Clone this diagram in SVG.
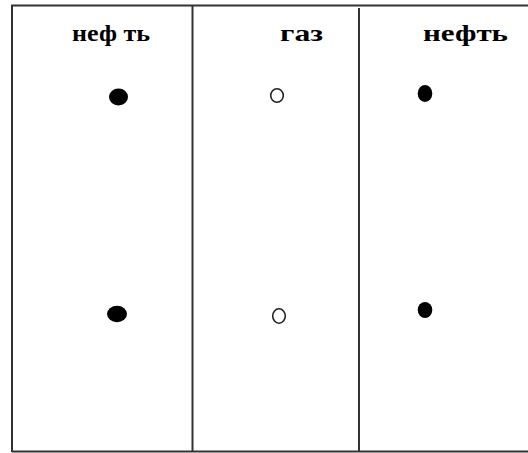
<svg xmlns="http://www.w3.org/2000/svg" width="528" height="453" viewBox="0 0 528 453">
<style>
.ln{stroke:#333;stroke-width:2;fill:none}
.lbl{font-family:"Liberation Serif","Times New Roman",serif;font-weight:bold;font-size:24px;fill:#000}
.oil{fill:#000}
.gas{fill:#fff;stroke:#222;stroke-width:1.6}
</style>
<rect width="528" height="453" fill="#fff"/>
<g id="connectors">
<path class="ln" d="M12,452 V5.5 H528"/>
<path class="ln" d="M12,451.5 H528"/>
<path class="ln" d="M192.5,5.5 V452"/>
<path class="ln" d="M359,8 V452"/>
</g>
<g id="col1">
<text class="lbl" x="72" y="41" textLength="78" lengthAdjust="spacingAndGlyphs">неф ть</text>
<ellipse class="oil" cx="118.5" cy="97" rx="9.5" ry="8.5"/>
<ellipse class="oil" cx="117" cy="314" rx="10" ry="8.3"/>
</g>
<g id="col2">
<text class="lbl" x="280" y="41" textLength="43" lengthAdjust="spacingAndGlyphs">газ</text>
<ellipse class="gas" cx="277" cy="95.5" rx="6.3" ry="6.8"/>
<ellipse class="gas" cx="279" cy="316" rx="6.3" ry="7.2"/>
</g>
<g id="col3">
<text class="lbl" x="423" y="41" textLength="85" lengthAdjust="spacingAndGlyphs">нефть</text>
<ellipse class="oil" cx="425" cy="93.5" rx="7.3" ry="8.5"/>
<ellipse class="oil" cx="425" cy="310" rx="7.3" ry="8"/>
</g>
</svg>
